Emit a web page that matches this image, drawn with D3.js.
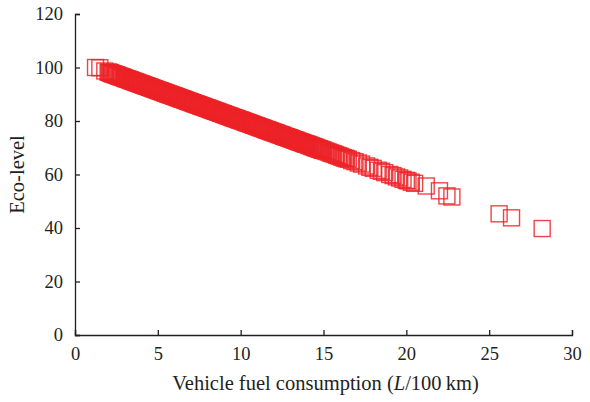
<!DOCTYPE html>
<html>
<head>
<meta charset="utf-8">
<script src="https://cdn.jsdelivr.net/npm/d3@7"></script>
<style>
  body { margin: 0; background: #fff; }
  text { font-family: "Liberation Serif", "Times New Roman", serif; fill: #231f20; }
</style>
</head>
<body>
<div id="chart"></div>
<script>
// ========================
// Data
// ========================
const fuelSparseLeft = [1.24, 1.5, 1.8];
const ecoSparseLeft = [100.0, 99.9, 98.7];

const fuelDense = [
  2.0, 2.1, 2.2, 2.3, 2.4, 2.5, 2.6, 2.7, 2.8, 2.9,
  3.0, 3.1, 3.2, 3.3, 3.4, 3.5, 3.6, 3.7, 3.8, 3.9,
  4.0, 4.1, 4.2, 4.3, 4.4, 4.5, 4.6, 4.7, 4.8, 4.9,
  5.0, 5.1, 5.2, 5.3, 5.4, 5.5, 5.6, 5.7, 5.8, 5.9,
  6.0, 6.1, 6.2, 6.3, 6.4, 6.5, 6.6, 6.7, 6.8, 6.9,
  7.0, 7.1, 7.2, 7.3, 7.4, 7.5, 7.6, 7.7, 7.8, 7.9,
  8.0, 8.1, 8.2, 8.3, 8.4, 8.5, 8.6, 8.7, 8.8, 8.9,
  9.0, 9.1, 9.2, 9.3, 9.4, 9.5, 9.6, 9.7, 9.8, 9.9,
  10.0, 10.1, 10.2, 10.3, 10.4, 10.5, 10.6, 10.7, 10.8, 10.9,
  11.0, 11.1, 11.2, 11.3, 11.4, 11.5, 11.6, 11.7, 11.8, 11.9,
  12.0, 12.1, 12.2, 12.3, 12.4, 12.5, 12.6, 12.7, 12.8, 12.9,
  13.0, 13.1, 13.2, 13.3, 13.4, 13.5, 13.6, 13.7, 13.8, 13.9,
  14.0, 14.1, 14.2, 14.3, 14.4, 14.5, 14.6, 14.7, 14.8, 14.9,
  15.0
];
const ecoDense = [
  98.3, 98.1, 97.8, 97.6, 97.4, 97.2, 96.9, 96.7, 96.5, 96.3,
  96.0, 95.8, 95.6, 95.4, 95.1, 94.9, 94.7, 94.4, 94.2, 94.0,
  93.8, 93.5, 93.3, 93.1, 92.9, 92.6, 92.4, 92.2, 92.0, 91.7,
  91.5, 91.3, 91.1, 90.8, 90.6, 90.4, 90.1, 89.9, 89.7, 89.5,
  89.3, 89.0, 88.8, 88.6, 88.3, 88.1, 87.9, 87.7, 87.4, 87.2,
  87.0, 86.8, 86.5, 86.3, 86.1, 85.9, 85.6, 85.4, 85.2, 85.0,
  84.8, 84.5, 84.3, 84.1, 83.8, 83.6, 83.4, 83.2, 82.9, 82.7,
  82.5, 82.3, 82.0, 81.8, 81.6, 81.3, 81.1, 80.9, 80.7, 80.4,
  80.3, 80.0, 79.8, 79.6, 79.3, 79.1, 78.9, 78.7, 78.4, 78.2,
  78.0, 77.8, 77.5, 77.3, 77.1, 76.8, 76.6, 76.4, 76.2, 75.9,
  75.7, 75.5, 75.3, 75.0, 74.8, 74.6, 74.3, 74.1, 73.9, 73.7,
  73.5, 73.2, 73.0, 72.8, 72.5, 72.3, 72.1, 71.9, 71.6, 71.4,
  71.3, 71.0, 70.8, 70.5, 70.3, 70.0, 69.8, 69.6, 69.4, 69.1,
  69.0
];

// in-between vehicles that fill the band
const fuelDenseMid = [
  2.05, 2.15, 2.25, 2.35, 2.45, 2.55, 2.65, 2.75, 2.85, 2.95,
  3.05, 3.15, 3.25, 3.35, 3.45, 3.55, 3.65, 3.75, 3.85, 3.95,
  4.05, 4.15, 4.25, 4.35, 4.45, 4.55, 4.65, 4.75, 4.85, 4.95,
  5.05, 5.15, 5.25, 5.35, 5.45, 5.55, 5.65, 5.75, 5.85, 5.95,
  6.05, 6.15, 6.25, 6.35, 6.45, 6.55, 6.65, 6.75, 6.85, 6.95,
  7.05, 7.15, 7.25, 7.35, 7.45, 7.55, 7.65, 7.75, 7.85, 7.95,
  8.05, 8.15, 8.25, 8.35, 8.45, 8.55, 8.65, 8.75, 8.85, 8.95,
  9.05, 9.15, 9.25, 9.35, 9.45, 9.55, 9.65, 9.75, 9.85, 9.95,
  10.05, 10.15, 10.25, 10.35, 10.45, 10.55, 10.65, 10.75, 10.85, 10.95,
  11.05, 11.15, 11.25, 11.35, 11.45, 11.55, 11.65, 11.75, 11.85, 11.95,
  12.05, 12.15, 12.25, 12.35, 12.45, 12.55, 12.65, 12.75, 12.85, 12.95,
  13.05, 13.15, 13.25, 13.35, 13.45, 13.55, 13.65, 13.75, 13.85, 13.95,
  14.05, 14.15, 14.25, 14.35, 14.45, 14.55, 14.65, 14.75, 14.85, 14.95
];
const ecoDenseMid = [
  98.2, 98.0, 97.7, 97.5, 97.3, 97.1, 96.8, 96.6, 96.4, 96.2,
  95.9, 95.7, 95.5, 95.3, 95.0, 94.8, 94.6, 94.4, 94.1, 93.9,
  93.7, 93.5, 93.2, 93.0, 92.8, 92.6, 92.3, 92.1, 91.9, 91.7,
  91.4, 91.2, 91.0, 90.8, 90.5, 90.3, 90.1, 89.9, 89.6, 89.4,
  89.2, 89.0, 88.7, 88.5, 88.3, 88.1, 87.8, 87.6, 87.4, 87.2,
  86.9, 86.7, 86.5, 86.3, 86.0, 85.8, 85.6, 85.4, 85.1, 84.9,
  84.7, 84.5, 84.2, 84.0, 83.8, 83.6, 83.3, 83.1, 82.9, 82.7,
  82.4, 82.2, 82.0, 81.8, 81.5, 81.3, 81.1, 80.9, 80.6, 80.4,
  80.2, 80.0, 79.7, 79.5, 79.3, 79.1, 78.8, 78.6, 78.4, 78.2,
  77.9, 77.7, 77.5, 77.3, 77.0, 76.8, 76.6, 76.4, 76.1, 75.9,
  75.7, 75.5, 75.2, 75.0, 74.8, 74.6, 74.3, 74.1, 73.9, 73.7,
  73.4, 73.2, 73.0, 72.8, 72.5, 72.3, 72.1, 71.9, 71.6, 71.4,
  71.2, 71.0, 70.7, 70.5, 70.3, 70.1, 69.8, 69.6, 69.4, 69.2
];

const fuelSparse = [
  15.1, 15.2, 15.3, 15.4, 15.5, 15.6, 15.7, 15.8, 15.9, 16.0,
  16.1, 16.2, 16.3, 16.4, 16.5, 16.7,
  16.9, 17.1, 17.3, 17.6, 17.8, 18.0, 18.3, 18.5, 18.7, 19.0,
  19.2, 19.4, 19.6, 19.8, 20.0, 20.1, 20.3, 20.5,
  21.2, 22.0, 22.45, 22.75, 25.6, 26.35, 28.2
];
const ecoSparse = [
  68.8, 68.6, 68.4, 68.1, 67.9, 67.7, 67.5, 67.2, 67.0, 66.8,
  66.5, 66.3, 66.1, 65.9, 65.7, 65.2,
  64.8, 64.3, 63.9, 63.2, 62.7, 62.3, 61.6, 61.2, 60.7, 60.0,
  59.6, 59.1, 58.7, 58.2, 57.8, 57.6, 57.1, 56.7,
  55.7, 53.9, 52.0, 51.6, 45.3, 43.8, 39.8
];

const xTicks = [0, 5, 10, 15, 20, 25, 30];
const yTicks = [0, 20, 40, 60, 80, 100, 120];

const points = []
  .concat(fuelSparseLeft.map((f, i) => ({ fuel: f, eco: ecoSparseLeft[i] })))
  .concat(fuelDense.map((f, i) => ({ fuel: f, eco: ecoDense[i] })))
  .concat(fuelDenseMid.map((f, i) => ({ fuel: f, eco: ecoDenseMid[i] })))
  .concat(fuelSparse.map((f, i) => ({ fuel: f, eco: ecoSparse[i] })));

// ========================
// Setup
// ========================
const width = 590;
const height = 402;
const margin = { left: 75, right: 18, top: 14, bottom: 67 };

const x = d3.scaleLinear().domain([0, 30]).range([margin.left, width - margin.right]);
const y = d3.scaleLinear().domain([0, 120]).range([height - margin.bottom, margin.top]);

const svg = d3.select("#chart").append("svg")
  .attr("width", width)
  .attr("height", height);

// Axes (ticks point inward)
const xAxis = svg.append("g")
  .attr("transform", `translate(0,${y(0)})`)
  .call(d3.axisBottom(x).tickValues(xTicks).tickSize(-5).tickPadding(12));

const yAxis = svg.append("g")
  .attr("transform", `translate(${x(0)},0)`)
  .call(d3.axisLeft(y).tickValues(yTicks).tickSize(-5).tickPadding(12));

[xAxis, yAxis].forEach(g => {
  g.select(".domain").attr("stroke", "#231f20").attr("stroke-width", 1.3);
  g.selectAll(".tick line").attr("stroke", "#231f20").attr("stroke-width", 1.3);
  g.selectAll(".tick text")
    .style("font-family", '"Liberation Serif", serif')
    .style("font-size", "18.5px")
    .attr("fill", "#231f20");
});

// Markers
const size = 16;
svg.append("g")
  .selectAll("rect")
  .data(points)
  .join("rect")
  .attr("x", d => x(d.fuel) - size / 2)
  .attr("y", d => y(d.eco) - size / 2)
  .attr("width", size)
  .attr("height", size)
  .attr("fill", "none")
  .attr("stroke", "#ec2227")
  .attr("stroke-opacity", 0.85)
  .attr("stroke-width", 1.4);

// Axis titles
const xTitle = svg.append("text")
  .attr("x", (x(0) + x(30)) / 2 + 2)
  .attr("y", 390)
  .attr("text-anchor", "middle")
  .style("font-size", "20.5px");
xTitle.append("tspan").text("Vehicle fuel consumption (");
xTitle.append("tspan").style("font-style", "italic").text("L");
xTitle.append("tspan").text("/100\u2009km)");

svg.append("text")
  .attr("transform", `translate(24,${(y(0) + y(120)) / 2}) rotate(-90)`)
  .attr("text-anchor", "middle")
  .style("font-size", "20.5px")
  .text("Eco-level");
</script>
</body>
</html>
